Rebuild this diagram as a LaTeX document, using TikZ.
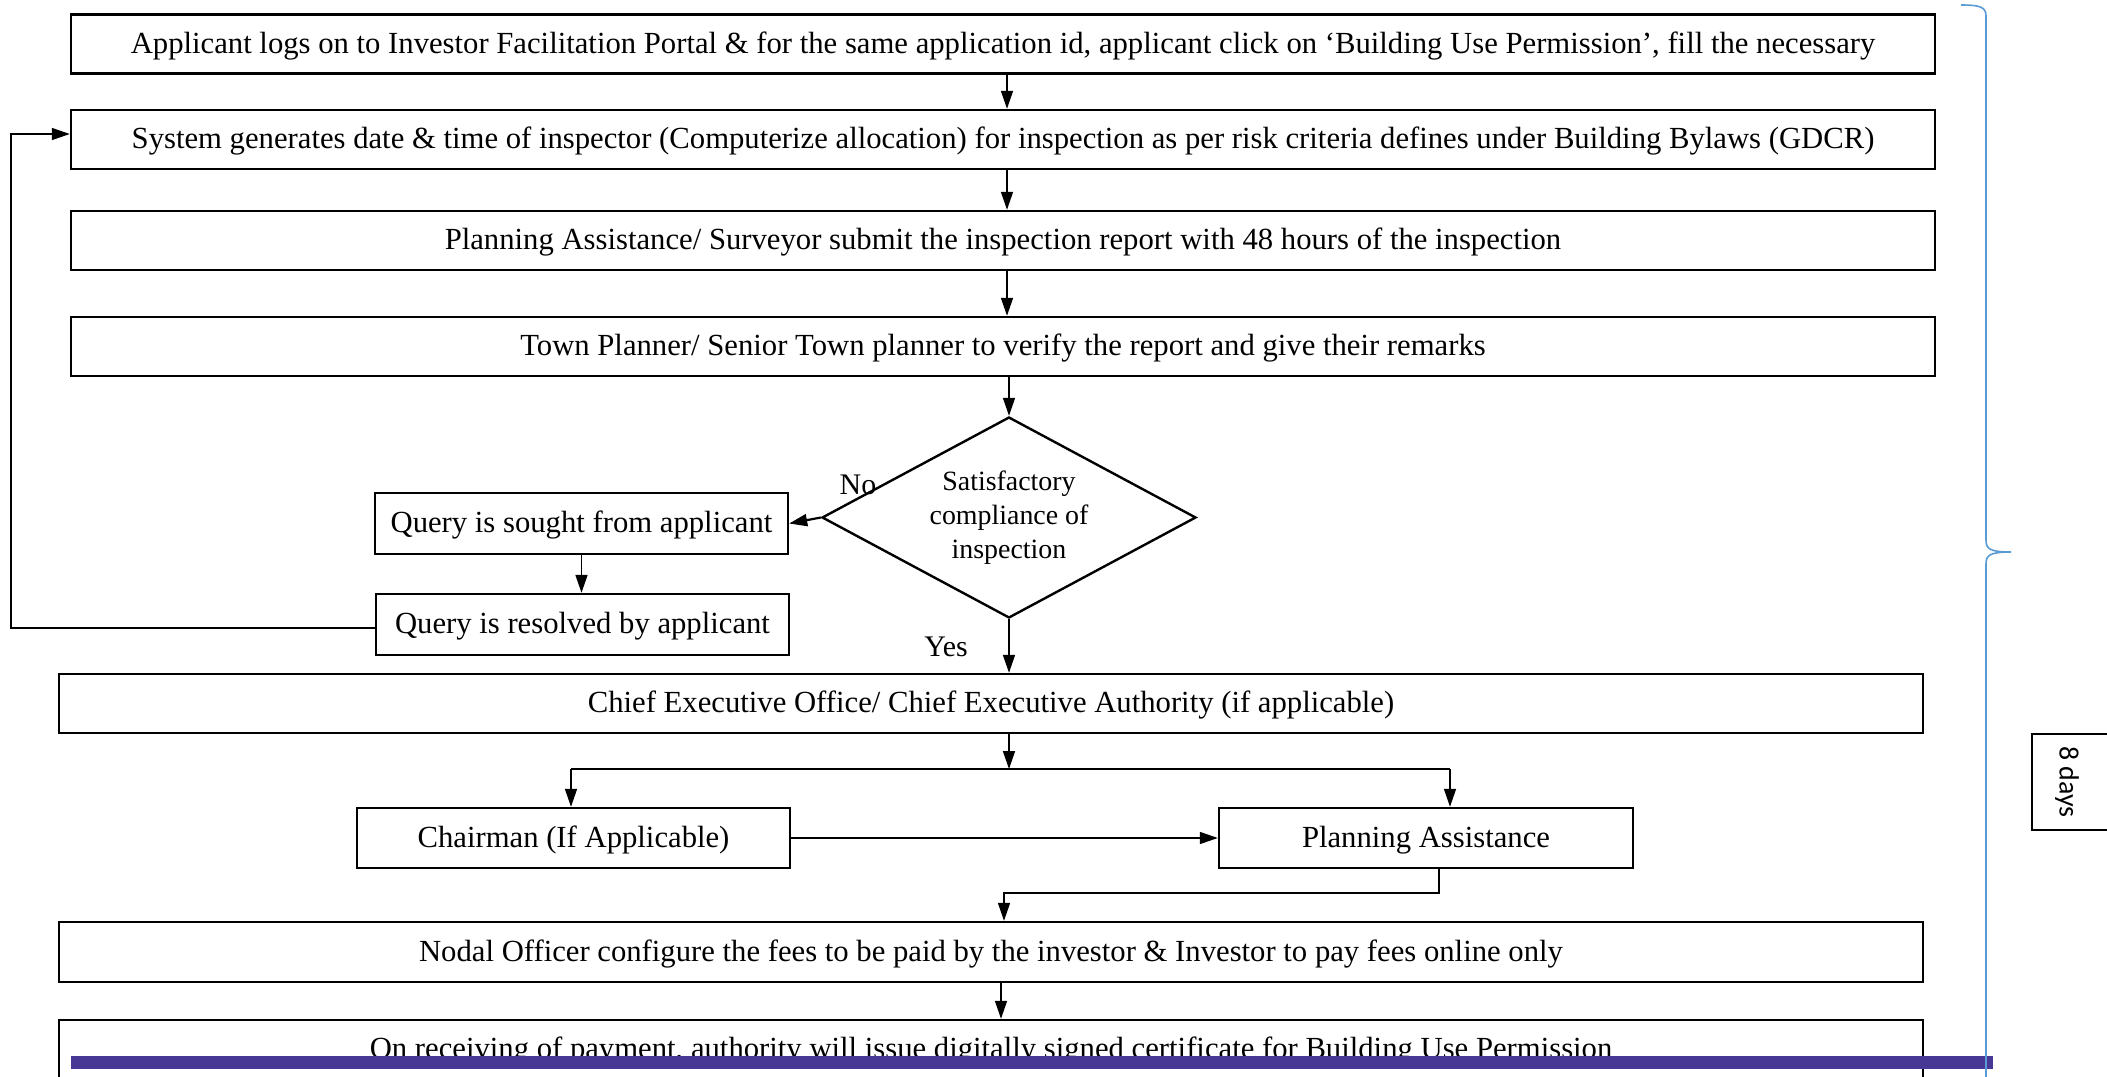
\documentclass[tikz,border=0pt]{standalone}
\usepackage{fontspec}
\setmainfont{Liberation Serif}
\newfontfamily\daysfont{Carlito}
\usetikzlibrary{arrows.meta,shapes.geometric}
\definecolor{barpurple}{RGB}{72,56,150}
\definecolor{braceblue}{RGB}{91,155,213}
\tikzset{
  box/.style={draw, line width=2.4bp, inner sep=0pt, minimum height=59bp,
    text height=24bp, text depth=6bp,
    font=\fontsize{30.8}{36}\selectfont},
  wide/.style={box, minimum width=1864bp},
  conn/.style={line width=1.6bp, -{Triangle[length=18bp,width=12bp]}},
  plain/.style={line width=1.6bp},
  lbl/.style={font=\fontsize{30}{34}\selectfont, inner sep=0pt},
}
\begin{document}
\begin{tikzpicture}[x=1bp,y=-1bp]
\useasboundingbox (0,0) rectangle (2107,1076);
\clip (0,0) rectangle (2107,1076);
\fill[white] (0,0) rectangle (2107,1076);

% main column boxes
\node[wide] (b1) at (1003,44) {Applicant logs on to Investor Facilitation Portal \& for the same application id, applicant click on ‘Building Use Permission’, fill the necessary};
\node[wide] (b2) at (1003,139.5) {System generates date \& time of inspector (Computerize allocation) for inspection as per risk criteria defines under Building Bylaws (GDCR)};
\node[wide] (b3) at (1003,240.5) {Planning Assistance/ Surveyor submit the inspection report with 48 hours of the inspection};
\node[wide] (b4) at (1003,346.5) {Town Planner/ Senior Town planner to verify the report and give their remarks};

% decision
\node[draw, line width=2.4bp, shape=diamond, aspect=1.86, minimum width=374bp, minimum height=201bp,
      inner sep=0pt, align=center, font=\fontsize{28}{34}\selectfont] (dec) at (1009,517.5)
      {Satisfactory\\compliance of\\inspection};

% query boxes
\node[box, minimum width=413bp, minimum height=61bp] (qs) at (581.5,523.5) {Query is sought from applicant};
\node[box, minimum width=413bp, minimum height=61bp] (qr) at (582.5,624.5) {Query is resolved by applicant};

% lower boxes
\node[wide] (ceo) at (991,703.5) {Chief Executive Office/ Chief Executive Authority (if applicable)};
\node[box, minimum width=433bp, minimum height=60bp] (chair) at (573.5,838) {Chairman (If Applicable)};
\node[box, minimum width=414bp, minimum height=60bp] (pa) at (1426,838) {Planning Assistance};
\node[wide, minimum height=60bp] (nodal) at (991,952) {Nodal Officer configure the fees to be paid by the investor \& Investor to pay fees online only};
\node[wide] (last) at (991,1049.5) {On receiving of payment, authority will issue digitally signed certificate for Building Use Permission};

% labels
\node[lbl] (no) at (858,485) {No};
\node[lbl] (yes) at (946,647) {Yes};

% helper coordinates
\coordinate (ax) at (1007,0);
\coordinate (fb) at (11,628);
\coordinate (fbt) at (11,134);
\coordinate (split) at (1009,769);
\coordinate (sl) at (571,769);
\coordinate (sr) at (1450,769);
\coordinate (pn) at (1439,893);
\coordinate (pnl) at (1004,893);
\coordinate (nl) at (1001,1000);

% connectors
\draw[conn] (b1.south -| ax) -- (b2.north -| ax);
\draw[conn] (b2.south -| ax) -- (b3.north -| ax);
\draw[conn] (b3.south -| ax) -- (b4.north -| ax);
\draw[conn] (b4.south -| dec.north) -- (dec.north);
\draw[conn, line width=2.2bp] (dec.west) -- (qs.east);
\draw[conn] (qs.south) -- (qs.south |- qr.north);
\draw[conn] (qr.west |- fb) -- (fb) -- (fbt) -- (fbt -| b2.west);
\draw[conn] (dec.south) -- (dec.south |- ceo.north);
\draw[conn] (ceo.south -| split) -- (split);
\draw[plain] (sl) -- (sr);
\draw[conn] (sl) -- (sl |- chair.north);
\draw[conn] (sr) -- (sr |- pa.north);
\draw[conn] (chair.east) -- (pa.west);
\draw[conn] (pa.south -| pn) -- (pn) -- (pnl) -- (pnl |- nodal.north);
\draw[conn] (nodal.south -| nl) -- (nl |- last.north);

% bar over the last box
\fill[barpurple] (71,1056) rectangle (1993,1069);

% brace
\draw[braceblue, line width=1.6bp] (1961,5) .. controls (1980,5) and (1986,7) .. (1986,16)
  -- (1986,540) .. controls (1986,549) and (1990,552) .. (2011,552)
  .. controls (1990,552) and (1986,555) .. (1986,564) -- (1986,1100);

% 8 days box
\node[draw, line width=1.4bp, minimum width=100bp, minimum height=96bp, inner sep=0pt] (daysbox) at (2082,782) {};
\node[rotate=-90, font=\daysfont\fontsize{28}{32}\selectfont, inner sep=0pt] (days) at (2067,782) {8 days};
\end{tikzpicture}
\end{document}
